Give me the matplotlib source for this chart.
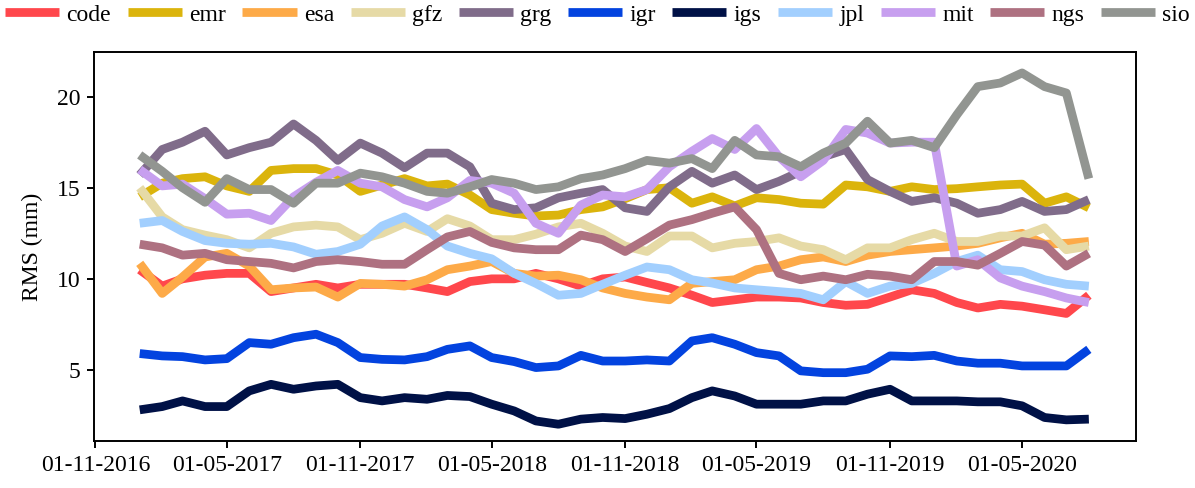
import matplotlib
matplotlib.use("Agg")
import matplotlib.pyplot as plt
import matplotlib.dates as mdates
import pandas as pd

plt.rcParams['font.family'] = ['Liberation Serif', 'DejaVu Serif']

# monthly samples
months = pd.date_range('2017-01-01', '2020-08-01', freq='MS')

code = [10.5, 9.6, 10.0, 10.2, 10.3, 10.3, 9.3, 9.5, 9.7, 9.5, 9.7, 9.7,
        9.7, 9.5, 9.3, 9.85, 10.0, 10.0, 10.3, 10.0, 9.6, 10.0, 10.1, 9.8,
        9.5, 9.1, 8.7, 8.85, 9.0, 9.0, 8.95, 8.7, 8.55, 8.6, 9.0, 9.4,
        9.2, 8.7, 8.4, 8.6, 8.5, 8.3, 8.1, 9.1]
emr = [14.5, 15.25, 15.5, 15.6, 15.1, 14.8, 15.95, 16.05, 16.05, 15.7, 14.8, 15.15,
       15.5, 15.1, 15.2, 14.6, 13.8, 13.6, 13.45, 13.5, 13.8, 13.95, 14.4, 14.9,
       15.0, 14.15, 14.5, 14.0, 14.45, 14.35, 14.15, 14.1, 15.15, 15.05, 14.8, 15.05,
       14.9, 14.95, 15.05, 15.15, 15.2, 14.15, 14.5, 13.9]
esa = [10.85, 9.2, 10.1, 11.2, 11.4, 10.7, 9.4, 9.5, 9.55, 9.0, 9.75, 9.7,
       9.6, 9.95, 10.5, 10.7, 10.95, 10.3, 10.15, 10.2, 9.95, 9.5, 9.2, 9.0,
       8.85, 9.75, 9.85, 9.95, 10.5, 10.7, 11.05, 11.2, 10.95, 11.3, 11.5, 11.6,
       11.7, 11.8, 11.95, 12.25, 12.5, 11.9, 11.95, 12.05]
gfz = [15.0, 13.4, 12.7, 12.4, 12.15, 11.7, 12.5, 12.85, 12.95, 12.85, 12.15, 12.5,
       13.05, 12.6, 13.3, 12.9, 12.15, 12.15, 12.45, 12.85, 13.05, 12.5, 11.8, 11.5,
       12.35, 12.35, 11.7, 11.95, 12.05, 12.25, 11.8, 11.6, 11.05, 11.7, 11.7, 12.15,
       12.5, 12.05, 12.05, 12.35, 12.35, 12.8, 11.6, 11.8]
grg = [15.7, 17.1, 17.5, 18.1, 16.8, 17.2, 17.5, 18.5, 17.6, 16.5, 17.45, 16.9,
       16.1, 16.9, 16.9, 16.15, 14.15, 13.8, 13.9, 14.45, 14.7, 14.9, 13.9, 13.7,
       15.05, 15.9, 15.25, 15.7, 14.9, 15.35, 15.9, 16.7, 17.1, 15.45, 14.8, 14.25,
       14.45, 14.15, 13.6, 13.8, 14.25, 13.7, 13.8, 14.35]
igr = [5.9, 5.77, 5.73, 5.55, 5.62, 6.5, 6.41, 6.77, 6.96, 6.5, 5.68, 5.58,
       5.55, 5.73, 6.13, 6.32, 5.68, 5.46, 5.13, 5.22, 5.8, 5.49, 5.49, 5.55,
       5.49, 6.59, 6.77, 6.41, 5.95, 5.77, 4.95, 4.85, 4.85, 5.04, 5.77, 5.73,
       5.8, 5.49, 5.37, 5.37, 5.22, 5.22, 5.22, 6.13]
igs = [2.81, 2.99, 3.3, 2.99, 2.99, 3.85, 4.21, 3.94, 4.12, 4.21, 3.48, 3.3,
       3.48, 3.39, 3.6, 3.54, 3.12, 2.75, 2.2, 2.02, 2.3, 2.39, 2.33, 2.57,
       2.88, 3.48, 3.85, 3.57, 3.12, 3.12, 3.12, 3.3, 3.3, 3.67, 3.94, 3.3,
       3.3, 3.3, 3.25, 3.25, 3.03, 2.39, 2.26, 2.3]
jpl = [13.05, 13.2, 12.6, 12.1, 11.95, 11.9, 11.95, 11.75, 11.35, 11.5, 11.9, 12.9,
       13.4, 12.7, 11.8, 11.4, 11.1, 10.3, 9.75, 9.1, 9.2, 9.7, 10.2, 10.65,
       10.5, 9.95, 9.77, 9.5, 9.4, 9.3, 9.2, 8.85, 9.85, 9.2, 9.6, 9.75,
       10.3, 10.95, 11.3, 10.5, 10.4, 9.95, 9.7, 9.6]
mit = [16.0, 15.1, 15.2, 14.4, 13.55, 13.6, 13.2, 14.5, 15.3, 15.95, 15.25, 15.05,
       14.35, 13.95, 14.45, 15.4, 15.25, 14.7, 13.05, 12.5, 14.05, 14.6, 14.5, 14.9,
       16.15, 17.0, 17.7, 17.1, 18.25, 16.7, 15.6, 16.5, 18.2, 18.0, 17.45, 17.5,
       17.5, 10.7, 11.05, 10.05, 9.6, 9.3, 8.95, 8.7]
ngs = [11.9, 11.7, 11.3, 11.4, 11.05, 10.95, 10.85, 10.6, 10.95, 11.05, 10.95, 10.8,
       10.8, 11.6, 12.3, 12.6, 12.0, 11.7, 11.6, 11.6, 12.4, 12.15, 11.5, 12.2,
       12.95, 13.25, 13.6, 13.95, 12.7, 10.3, 9.95, 10.15, 9.95, 10.25, 10.15, 9.95,
       10.95, 10.95, 10.75, 11.4, 12.05, 11.85, 10.7, 11.4]
sio = [16.8, 15.9, 15.0, 14.2, 15.5, 14.9, 14.9, 14.15, 15.25, 15.25, 15.8, 15.6,
       15.25, 14.8, 14.7, 15.05, 15.45, 15.25, 14.9, 15.05, 15.5, 15.7, 16.05, 16.5,
       16.35, 16.6, 16.05, 17.6, 16.8, 16.7, 16.15, 16.9, 17.45, 18.65, 17.45, 17.6,
       17.2, 19.0, 20.55, 20.75, 21.3, 20.55, 20.2, 15.5]

names = ['code', 'emr', 'esa', 'gfz', 'grg', 'igr', 'igs', 'jpl', 'mit', 'ngs', 'sio']
series = [code, emr, esa, gfz, grg, igr, igs, jpl, mit, ngs, sio]
colors = ['#ff474c', '#dbb40c', '#fdaa48', '#e6daa6', '#806c8a', '#0343df',
          '#001146', '#a2cffe', '#c79fef', '#ae7181', '#929591']

fig = plt.figure(figsize=(11.95, 4.88), dpi=100)
ax = fig.add_axes([94 / 1195, 47 / 488, 1042 / 1195, 389 / 488])

for name, vals, c in zip(names, series, colors):
    ax.plot(months, vals, color=c, lw=6.3, label=name,
            solid_capstyle='butt', solid_joinstyle='round')

ax.set_xlim(pd.Timestamp('2016-10-30'), pd.Timestamp('2020-10-05'))
ax.set_ylim(1.1, 22.45)
ax.set_yticks([5, 10, 15, 20])
ax.xaxis.set_major_locator(mdates.MonthLocator(bymonth=(5, 11)))
ax.xaxis.set_major_formatter(mdates.DateFormatter('%d-%m-%Y'))
ax.tick_params(labelsize=17, width=1.4, length=5, pad=5)
for s in ax.spines.values():
    s.set_linewidth(1.4)
ax.set_ylabel('RMS (mm)', fontsize=17, labelpad=10)

fig.legend(loc='center', bbox_to_anchor=(0.5, 1 - 15 / 488), ncol=11,
           frameon=False, fontsize=17, handlelength=2.3, handletextpad=0.3,
           columnspacing=0.7, borderaxespad=0)

fig.savefig('out.png', dpi=100)
